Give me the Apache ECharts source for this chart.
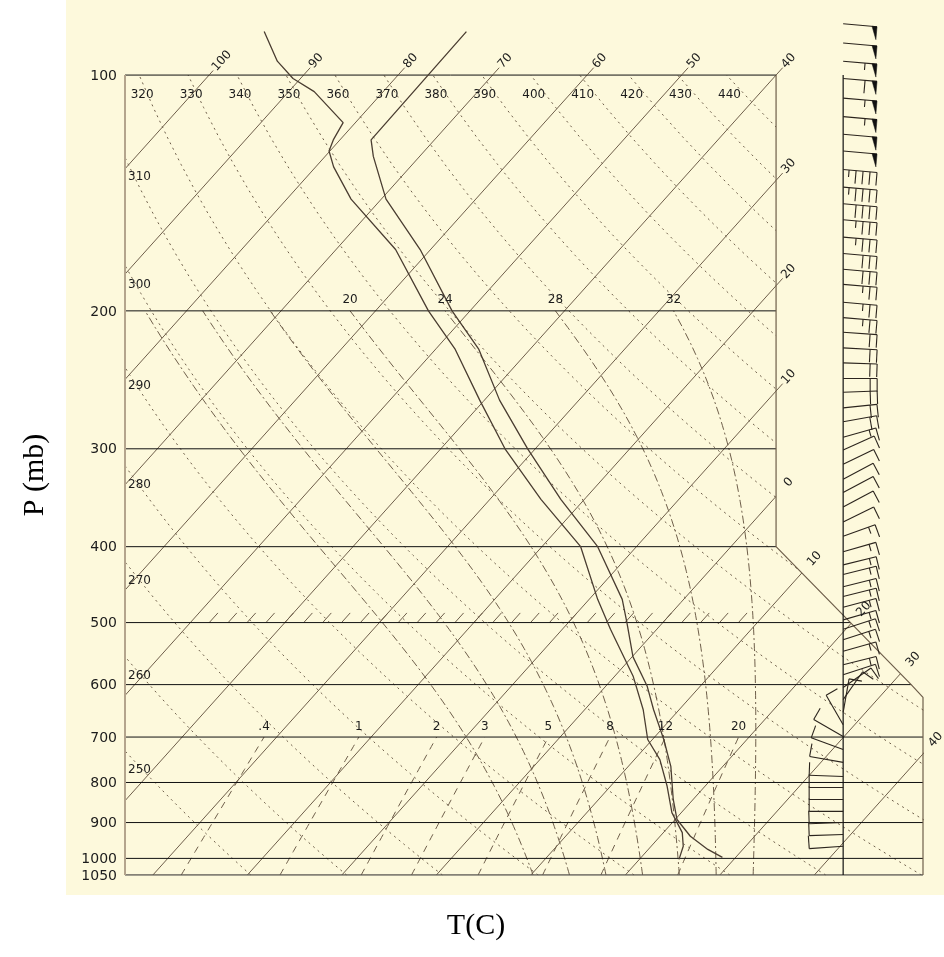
<!DOCTYPE html>
<html>
<head>
<meta charset="utf-8">
<title>Skew-T log-P</title>
<script src="https://cdn.jsdelivr.net/npm/echarts@6/dist/echarts.min.js"></script>
<style>
  html, body { margin: 0; padding: 0; background: #fff; }
  #chart { width: 944px; height: 957px; }
</style>
</head>
<body>
<div id="chart"></div>
<script>
// sounding: temperature (C) at pressure (mb)
var presT = [88, 121, 127, 144, 167, 200, 224, 260, 300, 348, 400, 467, 500, 553, 603, 646, 705, 763, 841, 892, 937, 974, 997];
var temp  = [-76.9, -76.7, -74.9, -69.5, -61.1, -51.9, -45.4, -38.4, -30.8, -22.5, -14.1, -6.5, -3.8, 0.1, 4.4, 7.3, 11.2, 14.5, 17.9, 20.2, 23.2, 26.3, 28.6];
// sounding: dew point
var presTd = [88, 96, 101, 105, 115, 121, 125, 131, 144, 167, 200, 224, 260, 300, 348, 400, 467, 510, 586, 646, 705, 748, 809, 874, 927, 965, 1003];
var dwpt   = [-98.3, -94.1, -90.8, -87.3, -81.3, -80.7, -80.1, -78.1, -73.2, -63.7, -54.4, -47.9, -40.5, -33.2, -24.6, -15.9, -9.1, -4.9, 2.0, 6.2, 9.5, 12.7, 16.0, 19.0, 22.0, 23.4, 24.2];

// winds (speed in kt, direction in deg)
var windP = [86, 91, 96, 101, 107, 113, 119, 125, 132, 139, 146, 153, 161, 169, 177, 185, 195, 204,
  213, 223, 233, 244, 254, 266, 277, 290, 301, 314, 328, 341, 356, 372, 388, 406, 422, 434, 450, 463,
  478, 496, 510, 526, 544, 566, 583, 605, 627, 651, 675, 699, 726, 754, 786, 812, 841, 871, 900, 932, 965];
var windSpd = [50, 50, 55, 60, 55, 55, 50, 50, 45, 45, 40, 35, 35, 30, 30, 25, 25, 25,
  20, 20, 20, 20, 20, 20, 20, 15, 10, 10, 10, 10, 10, 10, 15, 15, 15, 15, 15, 15,
  15, 15, 15, 15, 15, 15, 10, 10, 10, 10, 10, 10, 10, 10, 10, 10, 10, 10, 10, 10, 10];
var windDir = [95, 95, 95, 95, 95, 95, 95, 95, 95, 95, 95, 95, 95, 95, 95, 95, 95, 95,
  94, 93, 92, 90, 88, 84, 80, 74, 66, 64, 62, 62, 62, 64, 70, 74, 76, 76, 76, 76,
  75, 74, 72, 72, 74, 76, 72, 55, 35, 10, 330, 300, 290, 280, 272, 270, 270, 270, 268, 268, 266];

// diagram lines
var isobars = [100, 200, 300, 400, 500, 600, 700, 800, 900, 1000, 1050];
var isotherms = [-100, -90, -80, -70, -60, -50, -40, -30, -20, -10, 0, 10, 20, 30, 40];
var thetas = [250, 260, 270, 280, 290, 300, 310, 320, 330, 340, 350, 360, 370, 380, 390, 400, 410, 420, 430, 440, 450];
var thetaLabels = [250, 260, 270, 280, 290, 300, 310, 320, 330, 340, 350, 360, 370, 380, 390, 400, 410, 420, 430, 440];
var thetaWs = [8, 12, 16, 20, 24, 28, 32];
var thetaWLabels = [20, 24, 28, 32];
var mixRatios = [0.4, 1, 2, 3, 5, 8, 12, 20];
var mixLabels = ['.4', '1', '2', '3', '5', '8', '12', '20'];
var hatchTemps = [];
for (var h = -48; h <= 8; h += 2) hatchTemps.push(h);

// layout of the skewed frame
var SKEW = 32.3;
var U_LEFT = -108.9, U_RIGHT = -24.45, U_EDGE = -40, STAFF_U = -32.9;
var P_TOP = 80.2, P_BOT = 1050;
var RIGHT_EDGE = [[U_EDGE, 100], [U_EDGE, 400], [-25.7, 600], [U_RIGHT, 623], [U_RIGHT, 1050]];
var BOUND = [[U_LEFT, 100]].concat(RIGHT_EDGE);
var LN100 = Math.log(100);

var BG = '#fdf9dc';
var LINE = '#6e5e4a';
var TXT = '#1c1c1c';
var FONT = '"DejaVu Sans", sans-serif';

function sk(t, p) { return [t - SKEW * (Math.log(p) - LN100), p]; }
function levels(p0, p1, step) {
  var out = [];
  for (var p = p0; p >= p1 - 1e-9; p -= step) out.push(p);
  return out;
}
function dryT(theta, p) { return theta * Math.pow(p / 1000, 0.2857) - 273.15; }
function satVap(tc) { return 6.112 * Math.exp(17.67 * tc / (tc + 243.5)); }
function thetaE(tc, p) {
  var tk = tc + 273.15, e = satVap(tc), r = 622 * e / (p - e);
  return tk * Math.pow(1000 / p, 0.2854 * (1 - 0.00028 * r)) *
    Math.exp(0.95 * (3.376 / tk - 0.00254) * r * (1 + 0.00081 * r));
}
function moistT(thw, p) {
  var te = thetaE(thw, 1000), lo = -130, hi = 40, mid = 0;
  for (var i = 0; i < 50; i++) {
    mid = (lo + hi) / 2;
    if (thetaE(mid, p) > te) hi = mid; else lo = mid;
  }
  return mid;
}
function mixT(w, p) {
  var e = w * p / (622 + w), l = Math.log(e / 6.112);
  return 243.5 * l / (17.67 - l);
}
function uRight(p) {
  var L = Math.log(p);
  for (var i = 0; i < RIGHT_EDGE.length - 1; i++) {
    var a = RIGHT_EDGE[i], b = RIGHT_EDGE[i + 1];
    var La = Math.log(a[1]), Lb = Math.log(b[1]);
    if (L >= La - 1e-9 && L <= Lb + 1e-9) {
      return Lb === La ? b[0] : a[0] + (b[0] - a[0]) * (L - La) / (Lb - La);
    }
  }
  return U_RIGHT;
}
function exitPoint(t) {
  for (var i = 0; i < BOUND.length - 1; i++) {
    var u1 = BOUND[i][0], L1 = Math.log(BOUND[i][1]);
    var du = BOUND[i + 1][0] - u1, dL = Math.log(BOUND[i + 1][1]) - L1;
    var s = (t - SKEW * (L1 - LN100) - u1) / (du + SKEW * dL);
    if (s >= 0 && s <= 1) return [u1 + s * du, Math.exp(L1 + s * dL)];
  }
  return null;
}
function leftCrossing(theta) {
  var lo = Math.log(100), hi = Math.log(1050);
  for (var i = 0; i < 40; i++) {
    var mid = (lo + hi) / 2, p = Math.exp(mid);
    if (sk(dryT(theta, p), p)[0] < U_LEFT) lo = mid; else hi = mid;
  }
  return Math.exp((lo + hi) / 2);
}

var series = [];
function addLine(data, color, width, dash, z) {
  series.push({
    type: 'line', data: data, showSymbol: false, symbol: 'none', silent: true,
    animation: false, z: z, lineStyle: { color: color, width: width, type: dash || 'solid' }
  });
}
function addCustom(data, z, clip, render) {
  series.push({ type: 'custom', data: data, z: z, clip: clip, silent: true, animation: false, renderItem: render });
}
function textEl(x, y, text, size, align, rot) {
  return {
    type: 'text', x: x, y: y, rotation: rot || 0,
    style: { text: text, fill: TXT, fontSize: size, fontFamily: FONT, align: align || 'center', verticalAlign: 'middle' }
  };
}

// background lines (clipped to the grid, then masked)
isotherms.forEach(function (t) { addLine([sk(t, P_BOT), sk(t, P_TOP)], LINE, 1, 'solid', 2); });
thetas.forEach(function (th) {
  addLine(levels(1050, 80, 10).map(function (p) { return sk(dryT(th, p), p); }), LINE, 1, [2, 4], 2);
});
thetaWs.forEach(function (tw) {
  addLine(levels(1050, 200, 10).map(function (p) { return sk(moistT(tw, p), p); }), LINE, 1, [8, 3, 2, 3], 2);
});
mixRatios.forEach(function (w) {
  addLine(levels(1050, 700, 10).map(function (p) { return sk(mixT(w, p), p); }), LINE, 1, [7, 6], 2);
});
addCustom(hatchTemps.map(function (t) { return sk(t, 500); }), 2, true, function (params, api) {
  var t = hatchTemps[params.dataIndex];
  var a = api.coord(sk(t, 500)), b = api.coord(sk(t, 486));
  return { type: 'line', shape: { x1: a[0], y1: a[1], x2: b[0], y2: b[1] }, style: { stroke: LINE, lineWidth: 1 } };
});

// mask outside the frame
var MASK = [[U_LEFT - 1, P_TOP], [U_RIGHT + 1, P_TOP], [U_RIGHT + 1, 623], [U_RIGHT, 623],
  [-25.7, 600], [U_EDGE, 400], [U_EDGE, 100], [U_LEFT - 1, 100]];
addCustom([[U_LEFT, 100]], 3, false, function (params, api) {
  return { type: 'polygon', shape: { points: MASK.map(function (pt) { return api.coord(pt); }) }, style: { fill: BG } };
});

// frame, isobars, staff
isobars.forEach(function (p) {
  addLine([[U_LEFT, p], [uRight(p), p]], p === 1050 ? '#5c5a55' : '#111111', p === 1050 ? 1.6 : 1, 'solid', 4);
});
addLine([[U_LEFT, 100], [U_LEFT, 1050]], '#b4a58d', 2, 'solid', 4);
addLine(RIGHT_EDGE, LINE, 1.2, 'solid', 4);
addLine([[STAFF_U, 100], [STAFF_U, 1050]], '#111111', 1.2, 'solid', 4);

// sounding
addLine(presT.map(function (p, i) { return sk(temp[i], p); }), '#4a3d31', 1.3, 'solid', 5);
addLine(presTd.map(function (p, i) { return sk(dwpt[i], p); }), '#4a3d31', 1.3, 'solid', 5);

// wind barbs
addCustom(windP.map(function (p) { return [STAFF_U, p]; }), 6, false, function (params, api) {
  var i = params.dataIndex;
  var s = api.coord([STAFF_U, windP[i]]);
  var a = windDir[i] * Math.PI / 180;
  var d = [Math.sin(a), -Math.cos(a)], f = [-d[1], d[0]];
  var len = 34, tip = [s[0] + d[0] * len, s[1] + d[1] * len];
  var col = '#2b241d';
  var kids = [{ type: 'line', shape: { x1: s[0], y1: s[1], x2: tip[0], y2: tip[1] }, style: { stroke: col, lineWidth: 1.1 } }];
  var spd = Math.round(windSpd[i] / 5) * 5, pos = 0;
  function at(k) { return [tip[0] - d[0] * k, tip[1] - d[1] * k]; }
  while (spd >= 50) {
    var q = at(pos), q2 = at(pos + 5);
    kids.push({ type: 'polygon', shape: { points: [q, q2, [q[0] + f[0] * 13, q[1] + f[1] * 13]] }, style: { fill: '#111', stroke: '#111', lineWidth: 0.5 } });
    pos += 12; spd -= 50;
  }
  while (spd >= 10) {
    var r = at(pos);
    kids.push({ type: 'line', shape: { x1: r[0], y1: r[1], x2: r[0] + f[0] * 13, y2: r[1] + f[1] * 13 }, style: { stroke: col, lineWidth: 1.1 } });
    pos += 7; spd -= 10;
  }
  if (spd >= 5) {
    var hq = at(pos);
    kids.push({ type: 'line', shape: { x1: hq[0], y1: hq[1], x2: hq[0] + f[0] * 7, y2: hq[1] + f[1] * 7 }, style: { stroke: col, lineWidth: 1.1 } });
  }
  return { type: 'group', children: kids };
});

// pressure labels
addCustom(isobars.map(function (p) { return [U_LEFT, p]; }), 7, false, function (params, api) {
  var p = isobars[params.dataIndex], c = api.coord([U_LEFT, p]);
  return textEl(c[0] - 8, c[1] + 1, String(p), 14, 'right');
});

// isotherm labels
addCustom(isotherms.map(function (t) { return sk(t, 100); }), 7, false, function (params, api) {
  var t = isotherms[params.dataIndex], ex = exitPoint(t);
  var c0 = api.coord(ex), c1 = api.coord(sk(t, ex[1] * 0.8));
  var dx = c1[0] - c0[0], dy = c1[1] - c0[1], n = Math.sqrt(dx * dx + dy * dy);
  dx /= n; dy /= n;
  var txt = String(Math.abs(t)), hw = txt.length * 3.8;
  var kids = [textEl(c0[0] + dx * 19, c0[1] + dy * 19, txt, 12, 'center', Math.atan2(-dy, dx))];
  if (t < 0) {
    var k = 19 - hw - 1.5;
    kids.push({ type: 'line', shape: { x1: c0[0], y1: c0[1], x2: c0[0] + dx * k, y2: c0[1] + dy * k }, style: { stroke: LINE, lineWidth: 1 } });
  }
  return { type: 'group', children: kids };
});

// dry adiabat labels
addCustom(thetaLabels.map(function (th) { return [U_LEFT, 100]; }), 7, false, function (params, api) {
  var th = thetaLabels[params.dataIndex];
  var top = sk(dryT(th, 100), 100);
  if (top[0] >= U_LEFT) {
    var c = api.coord(top);
    return textEl(c[0] + 3, c[1] + 20, String(th), 12, 'center');
  }
  var pc = leftCrossing(th), cl = api.coord([U_LEFT, pc]);
  return textEl(cl[0] + 3, cl[1] + 19, String(th), 12, 'left');
});

// moist adiabat labels
addCustom(thetaWLabels.map(function (tw) { return [U_LEFT, 200]; }), 7, false, function (params, api) {
  var tw = thetaWLabels[params.dataIndex];
  var c = api.coord(sk(moistT(tw, 200), 200));
  return textEl(c[0], c[1] - 11, String(tw), 12, 'center');
});

// mixing ratio labels
addCustom(mixRatios.map(function (w) { return [U_LEFT, 700]; }), 7, false, function (params, api) {
  var i = params.dataIndex;
  var c = api.coord(sk(mixT(mixRatios[i], 700), 700));
  return textEl(c[0], c[1] - 10, mixLabels[i], 12, 'center');
});

var chart = echarts.init(document.getElementById('chart'));
chart.setOption({
  backgroundColor: '#ffffff',
  animation: false,
  grid: { left: 125, right: 21, top: 0, bottom: 82, show: false },
  xAxis: { type: 'value', min: U_LEFT, max: U_RIGHT, show: false },
  yAxis: { type: 'log', logBase: 10, min: P_TOP, max: P_BOT, inverse: true, show: false },
  graphic: [
    { type: 'rect', z: -10, silent: true, shape: { x: 66, y: 0, width: 878, height: 895 }, style: { fill: BG } },
    { type: 'text', x: 35, y: 475, rotation: Math.PI / 2, silent: true,
      style: { text: 'P (mb)', fill: '#000', fontSize: 30, fontFamily: '"Liberation Serif", serif', align: 'center', verticalAlign: 'middle' } },
    { type: 'text', x: 476, y: 926, silent: true,
      style: { text: 'T(C)', fill: '#000', fontSize: 30, fontFamily: '"Liberation Serif", serif', align: 'center', verticalAlign: 'middle' } }
  ],
  series: series
});
</script>
</body>
</html>
